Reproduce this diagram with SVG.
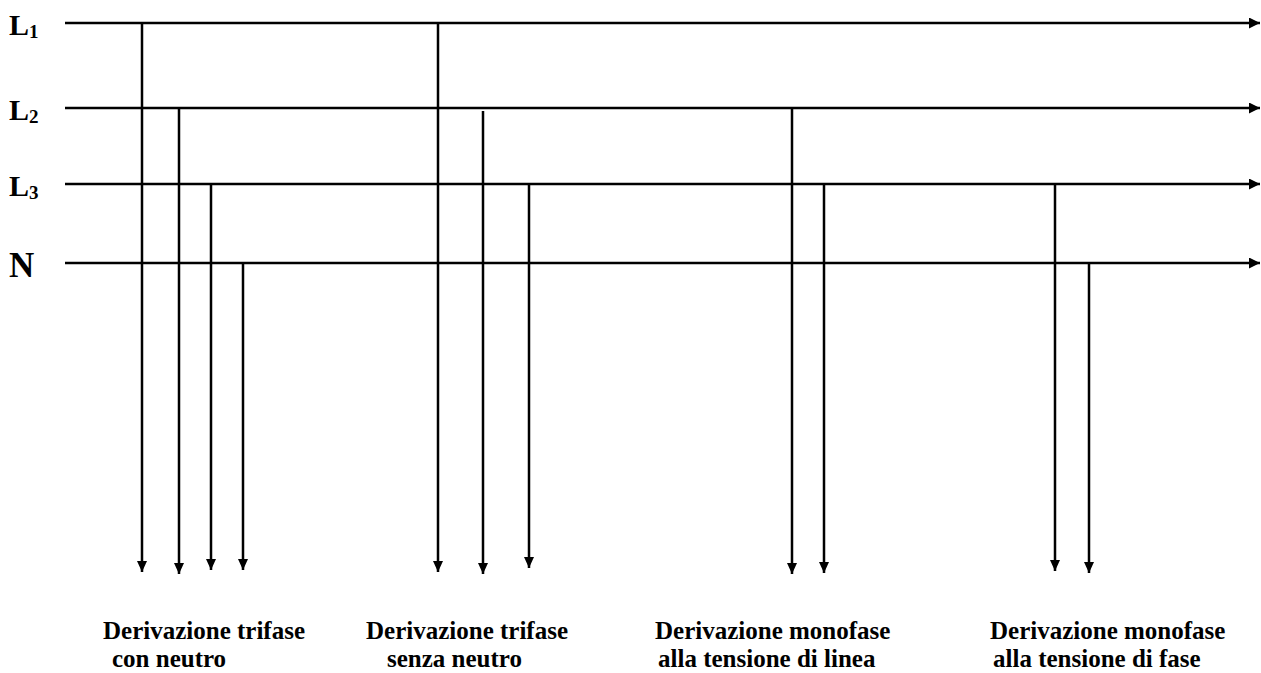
<svg xmlns="http://www.w3.org/2000/svg" width="1261" height="673" viewBox="0 0 1261 673">
  <style>
    .wire { stroke: #000; stroke-width: 2.5; fill: none; }
    .bus { marker-end: url(#arrowR); }
    .tap { marker-end: url(#arrowD); }
    .lbl { font-family: "Liberation Serif", "Times New Roman", serif; font-weight: bold; fill: #000; }
    .phase { font-size: 30px; }
    .sub { font-size: 19px; }
    .cap { font-size: 25px; }
  </style>
  <defs>
    <marker id="arrowR" markerUnits="userSpaceOnUse" markerWidth="13" markerHeight="12" refX="11" refY="5.5" orient="auto">
      <path d="M0,0 L11,5.5 L0,11 Z" fill="#000"/>
    </marker>
    <marker id="arrowD" markerUnits="userSpaceOnUse" markerWidth="13" markerHeight="12" refX="11" refY="5" orient="auto">
      <path d="M0,0 L11,5 L0,10 Z" fill="#000"/>
    </marker>
  </defs>

  <rect width="1261" height="673" fill="#fff"/>

  <!-- conductor labels -->
  <g id="label-L1"><text class="lbl phase" x="9" y="35">L<tspan class="sub" dy="3">1</tspan></text></g>
  <g id="label-L2"><text class="lbl phase" x="9" y="120">L<tspan class="sub" dy="3">2</tspan></text></g>
  <g id="label-L3"><text class="lbl phase" x="9" y="196">L<tspan class="sub" dy="3">3</tspan></text></g>
  <g id="label-N"><text class="lbl" font-size="35" x="9" y="277">N</text></g>

  <!-- bus conductors and taps -->
  <g id="connectors">
    <line class="wire bus" x1="65" y1="23" x2="1260" y2="23"/>
    <line class="wire bus" x1="65" y1="108" x2="1260" y2="108"/>
    <line class="wire bus" x1="65" y1="184" x2="1260" y2="184"/>
    <line class="wire bus" x1="65" y1="263" x2="1260" y2="263"/>

    <!-- three-phase with neutral -->
    <line class="wire tap" x1="142" y1="23" x2="142" y2="572"/>
    <line class="wire tap" x1="179" y1="107" x2="179" y2="574"/>
    <line class="wire tap" x1="211" y1="184" x2="211" y2="570"/>
    <line class="wire tap" x1="243" y1="263" x2="243" y2="570"/>

    <!-- three-phase without neutral -->
    <line class="wire tap" x1="438" y1="23" x2="438" y2="572"/>
    <line class="wire tap" x1="483" y1="111" x2="483" y2="574"/>
    <line class="wire tap" x1="529" y1="184" x2="529" y2="568"/>

    <!-- single-phase, line voltage -->
    <line class="wire tap" x1="792" y1="108" x2="792" y2="574"/>
    <line class="wire tap" x1="824" y1="184" x2="824" y2="573"/>

    <!-- single-phase, phase voltage -->
    <line class="wire tap" x1="1055" y1="184" x2="1055" y2="571"/>
    <line class="wire tap" x1="1089" y1="263" x2="1089" y2="573"/>
  </g>

  <!-- branch captions -->
  <g id="caption-1">
    <text class="lbl cap" x="103" y="639">Derivazione trifase</text>
    <text class="lbl cap" x="112" y="667">con neutro</text>
  </g>
  <g id="caption-2">
    <text class="lbl cap" x="366" y="639">Derivazione trifase</text>
    <text class="lbl cap" x="387" y="667">senza neutro</text>
  </g>
  <g id="caption-3">
    <text class="lbl cap" x="655" y="639">Derivazione monofase</text>
    <text class="lbl cap" x="658" y="667">alla tensione di linea</text>
  </g>
  <g id="caption-4">
    <text class="lbl cap" x="990" y="639">Derivazione monofase</text>
    <text class="lbl cap" x="993" y="667">alla tensione di fase</text>
  </g>
</svg>
